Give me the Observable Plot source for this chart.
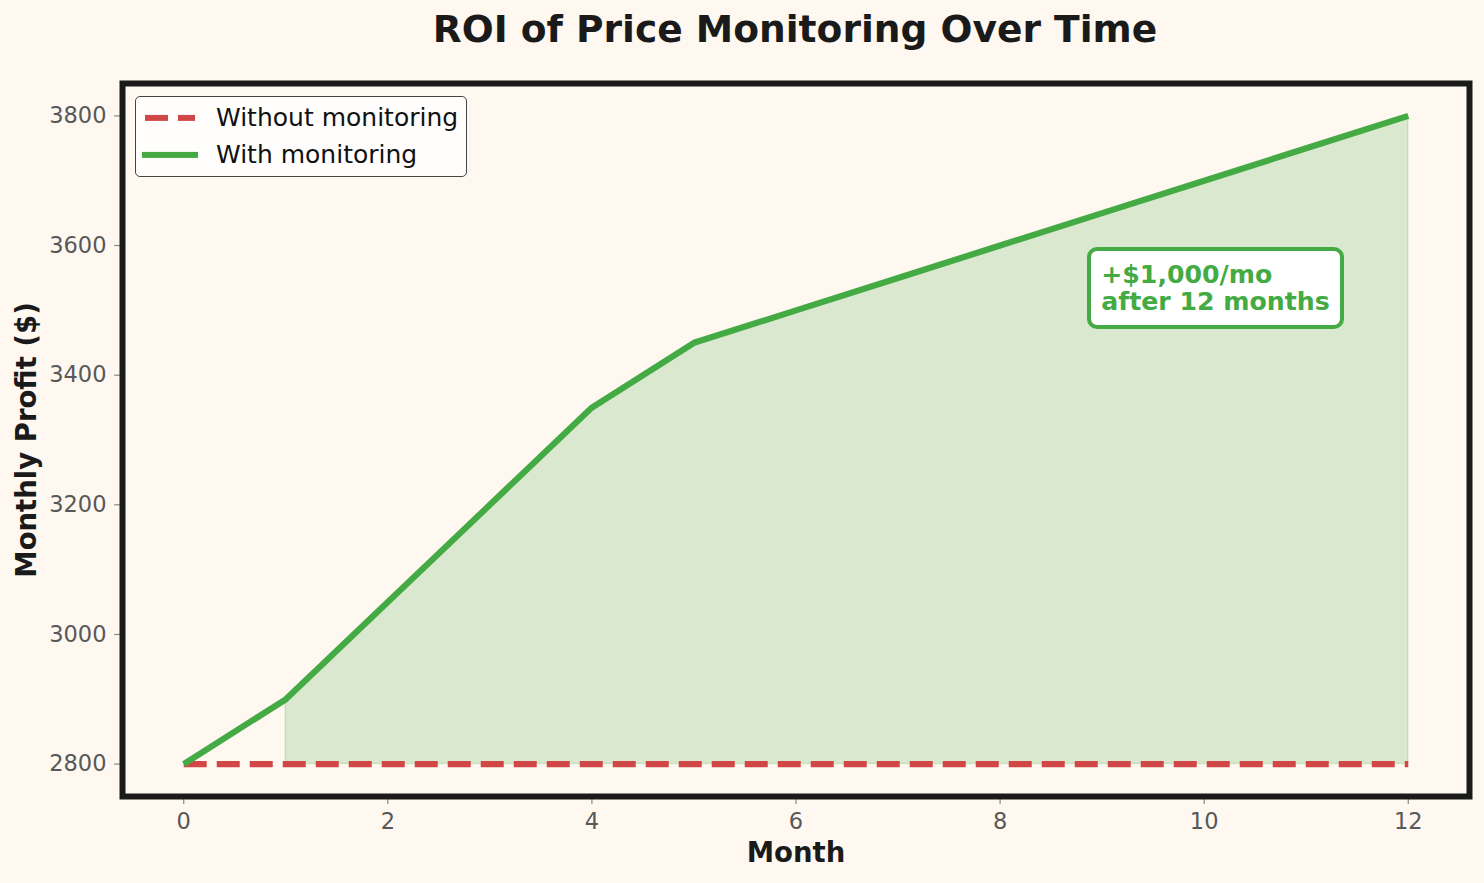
<!DOCTYPE html>
<html>
<head>
<meta charset="utf-8">
<script src="https://cdn.jsdelivr.net/npm/d3@7"></script>
<script src="https://cdn.jsdelivr.net/npm/@observablehq/plot@0.6"></script>
<style>
  html, body { margin: 0; padding: 0; background: #fef8f1; }
  #wrap { position: relative; width: 1484px; height: 883px; overflow: hidden; font-family: "DejaVu Sans", sans-serif; }
  #title { height: 60px; box-sizing: border-box; padding-left: 122px; width: 1468px; text-align: center;
           font-weight: bold; font-size: 37.6px; line-height: 37px; padding-top: 11px; color: #1a1a1a; white-space: nowrap; }
  #legend { position: absolute; box-sizing: border-box; border: 1.5px solid #444; border-radius: 5px;
            background: rgba(255,255,255,0.85); font-size: 25px; color: #111; }
  .row { position: absolute; left: 0; height: 30px; width: 100%; }
  .sw { position: absolute; top: 50%; transform: translateY(-50%); height: 6.2px; }
  .lab { position: absolute; left: 80px; top: 50%; transform: translateY(-50%); line-height: 30px; white-space: nowrap; }
  #note { position: absolute; box-sizing: border-box; border: 4px solid #44aa44; border-radius: 10px; background: #fff;
          color: #44aa44; font-weight: bold; font-size: 25.2px; line-height: 26.6px; padding: 11px 10px 9.5px 10px; white-space: nowrap; }
</style>
</head>
<body>
<div id="wrap">
  <div id="title">ROI of Price Monitoring Over Time</div>
  <div id="chart"></div>
</div>
<script>
// ---- data ----
const months = [0, 1, 2, 3, 4, 5, 6, 7, 8, 9, 10, 11, 12];
const withoutMonitoring = [2800, 2800, 2800, 2800, 2800, 2800, 2800, 2800, 2800, 2800, 2800, 2800, 2800];
const withMonitoring = [2800, 2900, 3050, 3200, 3350, 3450, 3500, 3550, 3600, 3650, 3700, 3750, 3800];
const xTicks = [0, 2, 4, 6, 8, 10, 12];
const yTicks = [2800, 3000, 3200, 3400, 3600, 3800];
const seriesNames = ["Without monitoring", "With monitoring"];
const xLabel = "Month";
const yLabel = "Monthly Profit ($)";
const noteLines = ["+$1,000/mo", "after 12 months"];
const noteAnchor = { month: 9, value: 3533 };

const RED = "#d14646";
const GREEN = "#44aa44";
const BG = "#fef8f1";

const rows = months.map((m, i) => ({ month: m, without: withoutMonitoring[i], with: withMonitoring[i] }));
const fillRows = rows.filter(d => d.with > d.without);

const SVG_TOP = 60;
const W = 1484, H = 883 - SVG_TOP;

const chart = Plot.plot({
  width: W,
  height: H,
  marginTop: 23,
  marginBottom: 87,
  marginLeft: 122,
  marginRight: 15,
  style: { background: BG, fontFamily: "DejaVu Sans, sans-serif", overflow: "visible" },
  x: { domain: [-0.6, 12.6], label: null },
  y: { domain: [2750, 3850], label: null },
  marks: [
    Plot.areaY(fillRows, { x: "month", y1: "without", y2: "with", fill: GREEN, fillOpacity: 0.2,
      stroke: GREEN, strokeOpacity: 0.2, strokeWidth: 1.5 }),
    Plot.line(rows, { x: "month", y: "without", stroke: RED, strokeWidth: 6.2, strokeDasharray: "23,10",
      strokeLinecap: "butt" }),
    Plot.line(rows, { x: "month", y: "with", stroke: GREEN, strokeWidth: 6.2, strokeLinejoin: "round",
      strokeLinecap: "butt" }),
    Plot.axisX(xTicks, { tickSize: 8, tickPadding: 9, fontSize: 22.5, stroke: "#8a8a8a", strokeWidth: 1.2,
      fill: "#585858", label: null, tickFormat: d => String(d) }),
    Plot.axisY(yTicks, { tickSize: 8, tickPadding: 8, fontSize: 22.5, stroke: "#8a8a8a", strokeWidth: 1.2,
      fill: "#585858", label: null, tickFormat: d => String(d) }),
    Plot.frame({ stroke: "#1a1a1a", strokeWidth: 6 }),
    Plot.text([xLabel], { frameAnchor: "bottom", dy: 57, text: d => d, fontSize: 27.5, fontWeight: "bold",
      fill: "#1a1a1a", lineAnchor: "middle" }),
    Plot.text([yLabel], { frameAnchor: "left", dx: -95, rotate: -90, text: d => d, fontSize: 27.5,
      fontWeight: "bold", fill: "#1a1a1a", lineAnchor: "middle", textAnchor: "middle" })
  ]
});
document.getElementById("chart").appendChild(chart);

const sx = chart.scale("x"), sy = chart.scale("y");
const frameLeft = sx.apply(-0.6), frameTop = sy.apply(3850) + SVG_TOP;

// ---- legend ----
const wrap = document.getElementById("wrap");
const legend = document.createElement("div");
legend.id = "legend";
legend.style.left = (frameLeft + 13) + "px";
legend.style.top = (frameTop + 13) + "px";
legend.style.width = "332px";
legend.style.height = "81px";
const swatches = [
  { bg: `repeating-linear-gradient(to right, ${RED} 0 23px, transparent 23px 33px)`, left: 9, width: 50 },
  { bg: GREEN, left: 6, width: 56 }
];
seriesNames.forEach((name, i) => {
  const row = document.createElement("div");
  row.className = "row";
  row.style.top = (i === 0 ? 5.5 : 42.5) + "px";
  const sw = document.createElement("div");
  sw.className = "sw";
  sw.style.left = swatches[i].left + "px";
  sw.style.width = swatches[i].width + "px";
  sw.style.background = swatches[i].bg;
  const lab = document.createElement("div");
  lab.className = "lab";
  lab.textContent = name;
  row.appendChild(sw);
  row.appendChild(lab);
  legend.appendChild(row);
});
wrap.appendChild(legend);

// ---- annotation ----
const note = document.createElement("div");
note.id = "note";
note.innerHTML = noteLines.map(s => `<div>${s}</div>`).join("");
wrap.appendChild(note);
const nx = sx.apply(noteAnchor.month) - 14.4;
const ny = sy.apply(noteAnchor.value) + SVG_TOP;
note.style.left = nx + "px";
note.style.top = (ny - note.offsetHeight / 2) + "px";
</script>
</body>
</html>
